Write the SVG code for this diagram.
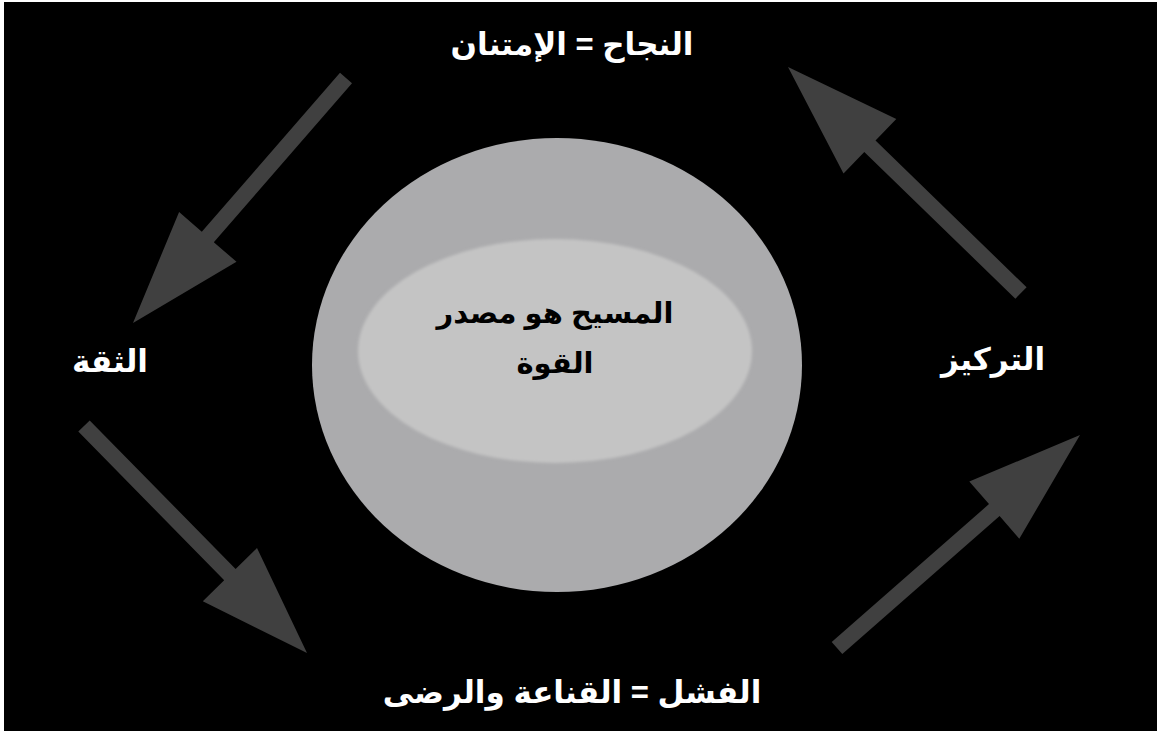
<svg xmlns="http://www.w3.org/2000/svg" width="1157" height="733" viewBox="0 0 1157 733">
  <style>
    .arrow { fill: #404040; }
    .lbl { font-family: "Liberation Sans", "DejaVu Sans", sans-serif; font-weight: bold; font-size: 31px; fill: #ffffff; text-anchor: middle; }
    .center { font-family: "Liberation Sans", "DejaVu Sans", sans-serif; font-weight: bold; font-size: 29px; fill: #000000; text-anchor: middle; }
  </style>
  <defs>
    <filter id="soft" x="-10%" y="-10%" width="120%" height="120%">
      <feGaussianBlur stdDeviation="1.5"/>
    </filter>
  </defs>
  <rect x="0" y="0" width="1157" height="733" fill="#ffffff"/>
  <rect x="4" y="2" width="1153" height="729" fill="#000000"/>

  <g id="center-node">
    <ellipse cx="557" cy="365" rx="245" ry="227" fill="#ababad"/>
    <ellipse cx="555" cy="351" rx="197" ry="112" fill="#c4c4c4" filter="url(#soft)"/>
    <text class="center" x="555" y="323">المسيح هو مصدر</text>
    <text class="center" x="555" y="373">القوة</text>
  </g>

  <g id="node-top">
    <text class="lbl" x="572" y="55">النجاح = الإمتنان</text>
  </g>
  <g id="node-left">
    <text class="lbl" x="110" y="372">الثقة</text>
  </g>
  <g id="node-right">
    <text class="lbl" x="993" y="370">التركيز</text>
  </g>
  <g id="node-bottom">
    <text class="lbl" x="572" y="703">الفشل = القناعة والرضى</text>
  </g>

  <g id="connectors">
    <polygon class="arrow" points="340,72.8 352,83.2 213.8,242.2 236.5,261.8 133,323 179.1,212 201.8,231.7"/>
    <polygon class="arrow" points="1026.6,287.3 875.5,140.6 896.3,119 788,67 843.5,173.6 864.3,152 1015.4,298.7"/>
    <polygon class="arrow" points="89.7,420.4 235.6,569 257,548 307,653 202.8,601.2 224.2,580.2 78.3,431.6"/>
    <polygon class="arrow" points="831.7,642 989,504.1 969.3,481.5 1080,435 1019.3,538.7 999.6,516.1 842.3,654"/>
  </g>
</svg>
